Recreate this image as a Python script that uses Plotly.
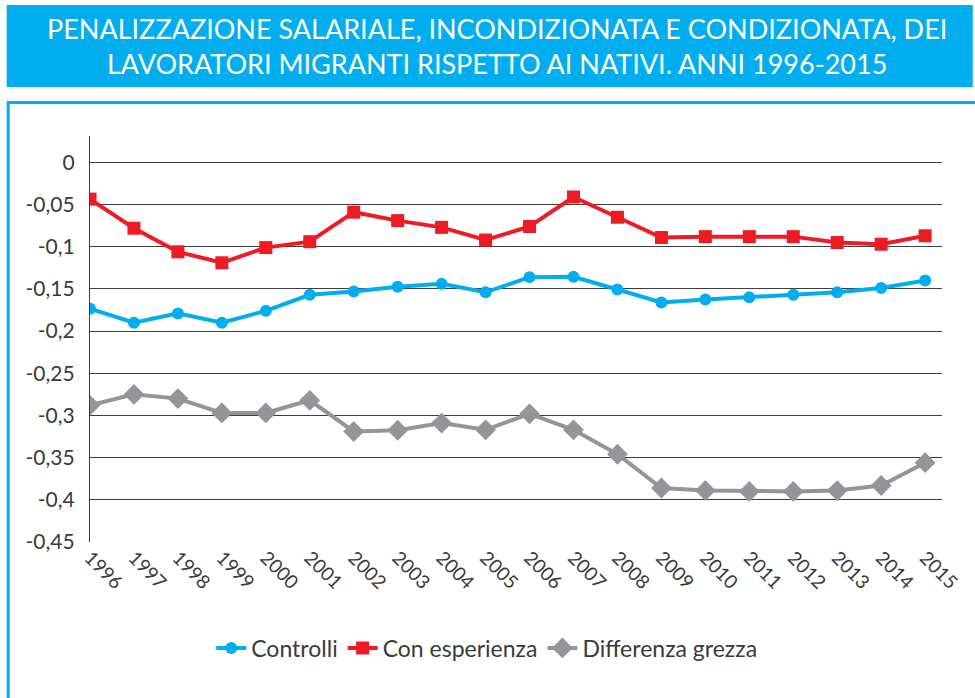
import plotly.graph_objects as go

# Years on the horizontal axis
years = list(range(1996, 2016))

# Wage penalty series
controlli = [-0.1735, -0.190, -0.179, -0.190, -0.176, -0.157, -0.153, -0.1475, -0.144, -0.154,
             -0.136, -0.1357, -0.1507, -0.166, -0.1625, -0.160, -0.157, -0.154, -0.149, -0.140]
con_esperienza = [-0.0435, -0.078, -0.106, -0.119, -0.101, -0.094, -0.059, -0.069, -0.077, -0.092,
                  -0.076, -0.041, -0.065, -0.089, -0.088, -0.088, -0.088, -0.095, -0.097, -0.087]
differenza_grezza = [-0.288, -0.275, -0.280, -0.297, -0.297, -0.282, -0.319, -0.3175, -0.309, -0.317,
                     -0.298, -0.317, -0.346, -0.386, -0.389, -0.390, -0.390, -0.389, -0.383, -0.356]

# Y tick values and their Italian-format labels
y_ticks = [0, -0.05, -0.1, -0.15, -0.2, -0.25, -0.3, -0.35, -0.4, -0.45]
y_labels = ["0", "-0,05", "-0,1", "-0,15", "-0,2", "-0,25", "-0,3", "-0,35", "-0,4", "-0,45"]

title_text = ("PENALIZZAZIONE SALARIALE, INCONDIZIONATA E CONDIZIONATA, DEI<br>"
              "LAVORATORI MIGRANTI RISPETTO AI NATIVI. ANNI 1996-2015")

BLUE = "#00AEEF"
RED = "#ED1C24"
GRAY = "#939598"
FONT = "Lato, 'Open Sans', sans-serif"

W, H = 975, 698
L, R, T, B = 90, 949, 136, 542  # plot area in pixels


def px(x):
    return (x - L) / (R - L)


def py(y):
    return (B - y) / (B - T)


fig = go.Figure()

fig.add_trace(go.Scatter(
    x=years, y=controlli, name="Controlli", mode="lines+markers",
    line=dict(color=BLUE, width=4),
    marker=dict(symbol="circle", size=12, color=BLUE),
))
fig.add_trace(go.Scatter(
    x=years, y=con_esperienza, name="Con esperienza", mode="lines+markers",
    line=dict(color=RED, width=4),
    marker=dict(symbol="square", size=13, color=RED),
))
fig.add_trace(go.Scatter(
    x=years, y=differenza_grezza, name="Differenza grezza", mode="lines+markers",
    line=dict(color=GRAY, width=4),
    marker=dict(symbol="diamond", size=16, color=GRAY),
))

shapes = [
    # title banner
    dict(type="rect", xref="paper", yref="paper",
         x0=px(6), x1=px(980), y0=py(87), y1=py(5),
         fillcolor=BLUE, line=dict(width=0), layer="below"),
    # frame around the chart panel
    dict(type="rect", xref="paper", yref="paper",
         x0=px(7.5), x1=px(990), y0=py(710), y1=py(102.5),
         fillcolor="rgba(0,0,0,0)", line=dict(color=BLUE, width=3), layer="below"),
]

fig.update_layout(
    width=W, height=H,
    margin=dict(l=L, r=W - R, t=T, b=H - B, pad=0),
    paper_bgcolor="white", plot_bgcolor="white",
    font=dict(family=FONT, color="#3a3a3a"),
    showlegend=True,
    legend=dict(orientation="h", x=px(490), y=py(648), xanchor="center", yanchor="middle",
                font=dict(size=23, color="#3a3a3a"), itemwidth=30,
                bgcolor="rgba(0,0,0,0)"),
    shapes=shapes,
    annotations=[dict(
        text=title_text, xref="paper", yref="paper",
        x=px(500), y=py(46), xanchor="center", yanchor="middle",
        showarrow=False, align="center",
        font=dict(family=FONT, size=27, color="white"),
    )],
    xaxis=dict(
        range=[1996, 2015.384], tickmode="array", tickvals=years,
        ticktext=[str(y) for y in years], tickangle=45,
        tickfont=dict(size=19, color="#3a3a3a"),
        showgrid=False, zeroline=False, showline=False, ticks="",
    ),
    yaxis=dict(
        range=[-0.45, 0.0313], tickmode="array", tickvals=y_ticks, ticktext=y_labels,
        tickfont=dict(size=21, color="#3a3a3a"),
        showgrid=True, gridcolor="#3d3d3d", gridwidth=1.3,
        zeroline=False, showline=True, linecolor="#3d3d3d", linewidth=1.3,
        ticks="", ticklabelstandoff=10,
    ),
)

fig.write_html("out.html")
